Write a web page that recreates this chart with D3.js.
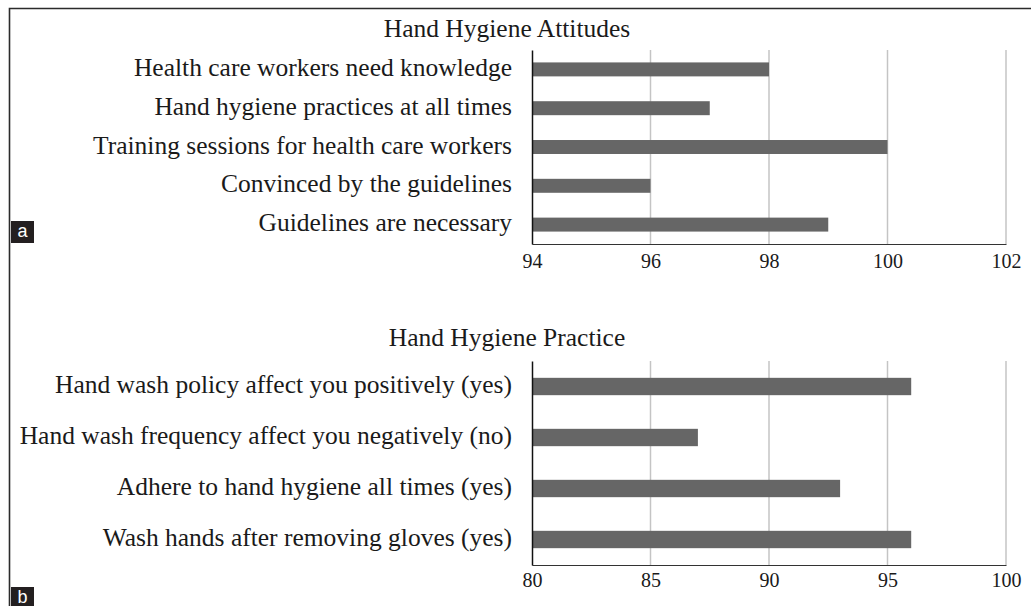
<!DOCTYPE html>
<html>
<head>
<meta charset="UTF-8">
<title>Hand Hygiene</title>
<script src="https://cdn.jsdelivr.net/npm/d3@7"></script>
<style>
  body { margin: 0; background: #fff; }
  svg { display: block; }
  text { font-family: "Liberation Serif", "Times New Roman", serif; fill: #1a1a1a; }
</style>
</head>
<body>
<svg width="1031" height="606"></svg>
<script>
// panel a data
var attitudeCats = ["Health care workers need knowledge", "Hand hygiene practices at all times",
  "Training sessions for health care workers", "Convinced by the guidelines", "Guidelines are necessary"];
var attitudeVals = [98, 97, 100, 96, 99];
var attitudeTicks = [94, 96, 98, 100, 102];

// panel b data
var practiceCats = ["Hand wash policy affect you positively (yes)", "Hand wash frequency affect you negatively (no)",
  "Adhere to hand hygiene all times (yes)", "Wash hands after removing gloves (yes)"];
var practiceVals = [96, 87, 93, 96];
var practiceTicks = [80, 85, 90, 95, 100];

var svg = d3.select("svg");

// outer frame (top + left only)
svg.append("path")
  .attr("d", "M9.5,606V8.5H1031")
  .attr("fill", "none")
  .attr("stroke", "#2b2b2b")
  .attr("stroke-width", 1.6);

function panel(cfg) {
  var x = d3.scaleLinear().domain([cfg.ticks[0], cfg.ticks[cfg.ticks.length - 1]]).range([532, 1006]);
  var y = d3.scaleBand().domain(cfg.cats).range([cfg.top, cfg.bottom]).paddingInner(cfg.pad).paddingOuter(cfg.pad / 2);
  var g = svg.append("g");

  // title
  g.append("text")
    .attr("x", 507).attr("y", cfg.titleY)
    .attr("text-anchor", "middle")
    .style("font-size", "25.5px")
    .text(cfg.title);

  // gridlines
  g.append("g").selectAll("line")
    .data(cfg.ticks.slice(1))
    .enter().append("line")
    .attr("x1", function(d){ return x(d); })
    .attr("x2", function(d){ return x(d); })
    .attr("y1", cfg.top).attr("y2", cfg.bottom)
    .attr("stroke", "#c4c4c4")
    .attr("stroke-width", 1.5);

  // bars
  g.append("g").selectAll("rect")
    .data(cfg.vals)
    .enter().append("rect")
    .attr("x", x.range()[0])
    .attr("y", function(d, i){ return y(cfg.cats[i]); })
    .attr("width", function(d){ return x(d) - x.range()[0]; })
    .attr("height", y.bandwidth())
    .attr("fill", "#666666");

  // axes
  var xAxis = g.append("g")
    .attr("transform", "translate(0," + cfg.bottom + ")")
    .call(d3.axisBottom(x).tickValues(cfg.ticks).tickSize(0).tickPadding(cfg.tickPad));
  xAxis.select(".domain").attr("stroke", "#333").attr("stroke-width", 1.2);
  xAxis.selectAll("text").style("font-size", "20px").attr("fill", "#1a1a1a")
    .style("font-family", "Liberation Serif, serif");

  var yAxis = g.append("g")
    .attr("transform", "translate(" + x.range()[0] + ",0)")
    .call(d3.axisLeft(y).tickSize(0).tickPadding(20));
  yAxis.select(".domain").attr("stroke", "#111").attr("stroke-width", 1.5);
  yAxis.selectAll("text").style("font-size", "25.5px").attr("fill", "#1a1a1a")
    .attr("dy", "0.26em")
    .style("font-family", "Liberation Serif, serif");

  // panel letter
  g.append("rect")
    .attr("x", 11).attr("y", cfg.letterY)
    .attr("width", 23).attr("height", 22)
    .attr("fill", "#231f20");
  g.append("text")
    .attr("x", 22.5).attr("y", cfg.letterY + 16)
    .attr("text-anchor", "middle")
    .style("font-family", "Liberation Sans, Arial, sans-serif")
    .style("font-size", "18px")
    .style("fill", "#fff")
    .text(cfg.letter);
}

panel({ title: "Hand Hygiene Attitudes", titleY: 37, cats: attitudeCats, vals: attitudeVals,
  ticks: attitudeTicks, top: 50, bottom: 244, pad: 0.64, tickPad: 10, letter: "a", letterY: 221 });
panel({ title: "Hand Hygiene Practice", titleY: 346, cats: practiceCats, vals: practiceVals,
  ticks: practiceTicks, top: 361, bottom: 565, pad: 0.66, tickPad: 8, letter: "b", letterY: 587 });
</script>
</body>
</html>
